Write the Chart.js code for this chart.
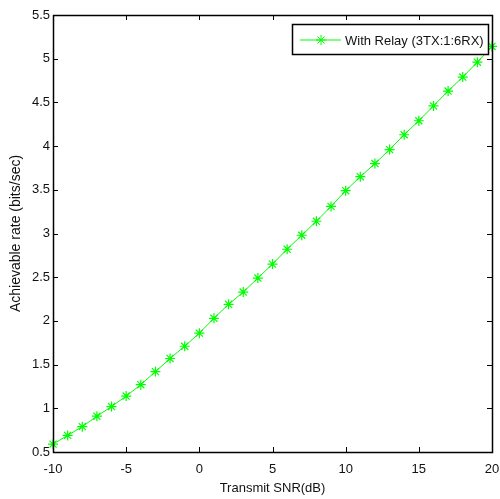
<!DOCTYPE html>
<html>
<head>
<meta charset="utf-8">
<script src="https://cdn.jsdelivr.net/npm/chart.js@4.4.1/dist/chart.umd.min.js"></script>
<style>
  html, body { margin: 0; padding: 0; background: #fff; }
  #wrap { width: 500px; height: 499px; }
</style>
</head>
<body>
<div id="wrap"><canvas id="rateChart" width="500" height="499"></canvas></div>
<script>
// transmit SNR sweep (dB) and achievable rate with relay
const snrDb = [-10, -9, -8, -7, -6, -5, -4, -3, -2, -1, 0, 1, 2, 3, 4, 5,
               6, 7, 8, 9, 10, 11, 12, 13, 14, 15, 16, 17, 18, 19, 20];
const rateRelay = [0.59, 0.69, 0.79, 0.91, 1.02, 1.14, 1.27, 1.42, 1.57, 1.71,
                   1.86, 2.03, 2.19, 2.33, 2.49, 2.65, 2.82, 2.98, 3.14, 3.31,
                   3.49, 3.65, 3.80, 3.96, 4.13, 4.29, 4.46, 4.63, 4.79, 4.96, 5.14];
const seriesLabel = 'With Relay (3TX:1:6RX)';

const xTickValues = [-10, -5, 0, 5, 10, 15, 20];
const yTickValues = [0.5, 1, 1.5, 2, 2.5, 3, 3.5, 4, 4.5, 5, 5.5];

const FONT = "'Liberation Sans', Arial, sans-serif";
const GREEN = '#00ff00';

// matlab style box: frame + inward ticks on all four sides
const boxAxes = {
  id: 'boxAxes',
  afterDatasetsDraw(chart) {
    const { ctx, chartArea: a, scales: { x, y } } = chart;
    const len = 5;
    ctx.save();
    ctx.strokeStyle = '#000';
    ctx.lineWidth = 1;
    ctx.beginPath();
    xTickValues.forEach(v => {
      const px = Math.round(x.getPixelForValue(v)) + 0.5;
      ctx.moveTo(px, a.bottom); ctx.lineTo(px, a.bottom - len);
      ctx.moveTo(px, a.top); ctx.lineTo(px, a.top + len);
    });
    yTickValues.forEach(v => {
      const py = Math.round(y.getPixelForValue(v)) + 0.5;
      ctx.moveTo(a.left, py); ctx.lineTo(a.left + len, py);
      ctx.moveTo(a.right, py); ctx.lineTo(a.right - len, py);
    });
    ctx.stroke();
    ctx.lineWidth = 1.5;
    ctx.strokeRect(Math.round(a.left) + 0.5, Math.round(a.top) + 0.5,
                   Math.round(a.right - a.left), Math.round(a.bottom - a.top));
    ctx.restore();
  }
};

// legend box in the upper right corner of the axes
const boxLegend = {
  id: 'boxLegend',
  afterDraw(chart) {
    const { ctx, chartArea: a } = chart;
    const ds = chart.data.datasets[0];
    const w = 196, h = 30;
    const bx = a.right - 4 - w, by = a.top + 9;
    const cy = by + 16;
    ctx.save();
    ctx.fillStyle = '#fff';
    ctx.fillRect(bx, by, w, h);
    ctx.strokeStyle = '#000';
    ctx.lineWidth = 1.5;
    ctx.strokeRect(bx + 0.5, by + 0.5, w, h);
    ctx.strokeStyle = ds.borderColor;
    ctx.lineWidth = 1;
    ctx.beginPath();
    ctx.moveTo(bx + 8, cy); ctx.lineTo(bx + 49, cy);
    ctx.stroke();
    Chart.helpers.drawPoint(ctx, {
      pointStyle: 'star', radius: ds.pointRadius, rotation: 0,
      borderWidth: 1
    }, bx + 29, cy);
    ctx.fillStyle = '#111';
    ctx.font = '13px ' + FONT;
    ctx.textBaseline = 'middle';
    ctx.fillText(ds.label, bx + 53, cy + 1);
    ctx.restore();
  }
};

new Chart(document.getElementById('rateChart'), {
  type: 'line',
  data: {
    datasets: [{
      label: seriesLabel,
      data: snrDb.map((s, i) => ({ x: s, y: rateRelay[i] })),
      borderColor: GREEN,
      backgroundColor: GREEN,
      borderWidth: 1,
      pointStyle: 'star',
      pointRadius: 5,
      pointBorderWidth: 1.2,
      pointBorderColor: GREEN,
      tension: 0,
      clip: false
    }]
  },
  options: {
    responsive: false,
    animation: false,
    devicePixelRatio: 1,
    layout: { padding: { top: 15, right: 0, left: 0, bottom: 0 } },
    plugins: { legend: { display: false }, tooltip: { enabled: false } },
    scales: {
      x: {
        type: 'linear',
        min: -10, max: 20,
        afterBuildTicks: s => { s.ticks = xTickValues.map(v => ({ value: v })); },
        afterFit: s => { s.height = 47; s.paddingRight = 8; },
        grid: { display: false, drawTicks: false },
        border: { display: false },
        ticks: {
          color: '#111', padding: 10, font: { family: FONT, size: 13 },
          callback: v => String(v)
        },
        title: {
          display: true, text: 'Transmit SNR(dB)', color: '#111',
          font: { family: FONT, size: 13 }, padding: { top: 0, bottom: 3 }
        }
      },
      y: {
        type: 'linear',
        min: 0.5, max: 5.5,
        afterBuildTicks: s => { s.ticks = yTickValues.map(v => ({ value: v })); },
        afterFit: s => { s.width = 53; },
        grid: { display: false, drawTicks: false },
        border: { display: false },
        ticks: {
          color: '#111', padding: 3, font: { family: FONT, size: 13 },
          callback: v => String(v)
        },
        title: {
          display: true, text: 'Achievable rate (bits/sec)', color: '#111',
          font: { family: FONT, size: 14 }, padding: { top: 8, bottom: 0 }
        }
      }
    }
  },
  plugins: [boxAxes, boxLegend]
});
</script>
</body>
</html>
